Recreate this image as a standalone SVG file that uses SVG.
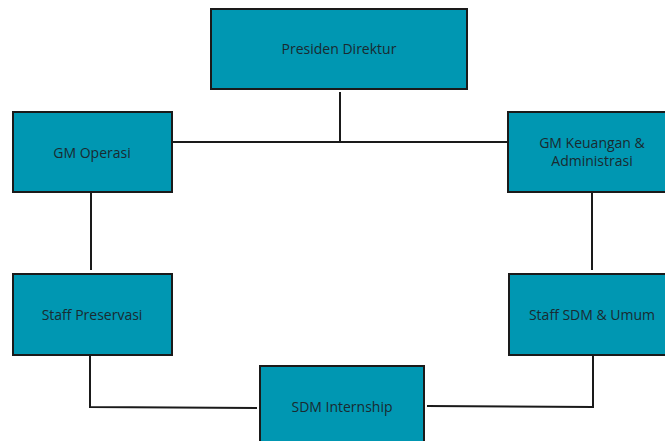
<svg xmlns="http://www.w3.org/2000/svg" width="665" height="441" viewBox="0 0 665 441">
<style>
.box{fill:#0097b2;stroke:#1a1a1a;stroke-width:2}
.lbl{font-family:"Open Sans","Noto Sans",sans-serif;font-size:14px;fill:#1a2a30;text-anchor:middle;dominant-baseline:central}
.ln{fill:none;stroke:#1a1a1a;stroke-width:2}
</style>
<rect width="665" height="441" fill="#ffffff"/>
<g id="connectors">
<line class="ln" x1="340" y1="92" x2="340" y2="142"/>
<line class="ln" x1="172" y1="142" x2="508" y2="142"/>
<line class="ln" x1="91" y1="192" x2="91" y2="270"/>
<line class="ln" x1="592" y1="192" x2="592" y2="270"/>
<polyline class="ln" points="90,355 90,407 257,408"/>
<polyline class="ln" points="427,406 593,407 593,355"/>
</g>
<g id="presiden-direktur">
<rect class="box" x="211" y="9" width="256" height="80"/>
<text class="lbl" x="339" y="48">Presiden Direktur</text>
</g>
<g id="gm-operasi">
<rect class="box" x="13" y="112" width="159" height="80"/>
<text class="lbl" x="92" y="152">GM Operasi</text>
</g>
<g id="gm-keuangan">
<rect class="box" x="508" y="112" width="159" height="80"/>
<text class="lbl" x="592" y="142">GM Keuangan &amp;</text>
<text class="lbl" x="592" y="160">Administrasi</text>
</g>
<g id="staff-preservasi">
<rect class="box" x="13" y="274" width="159" height="81"/>
<text class="lbl" x="92" y="314">Staff Preservasi</text>
</g>
<g id="staff-sdm-umum">
<rect class="box" x="509" y="274" width="159" height="81"/>
<text class="lbl" x="592" y="314">Staff SDM &amp; Umum</text>
</g>
<g id="sdm-internship">
<rect class="box" x="260" y="366" width="164" height="80"/>
<text class="lbl" x="342" y="406">SDM Internship</text>
</g>
</svg>
